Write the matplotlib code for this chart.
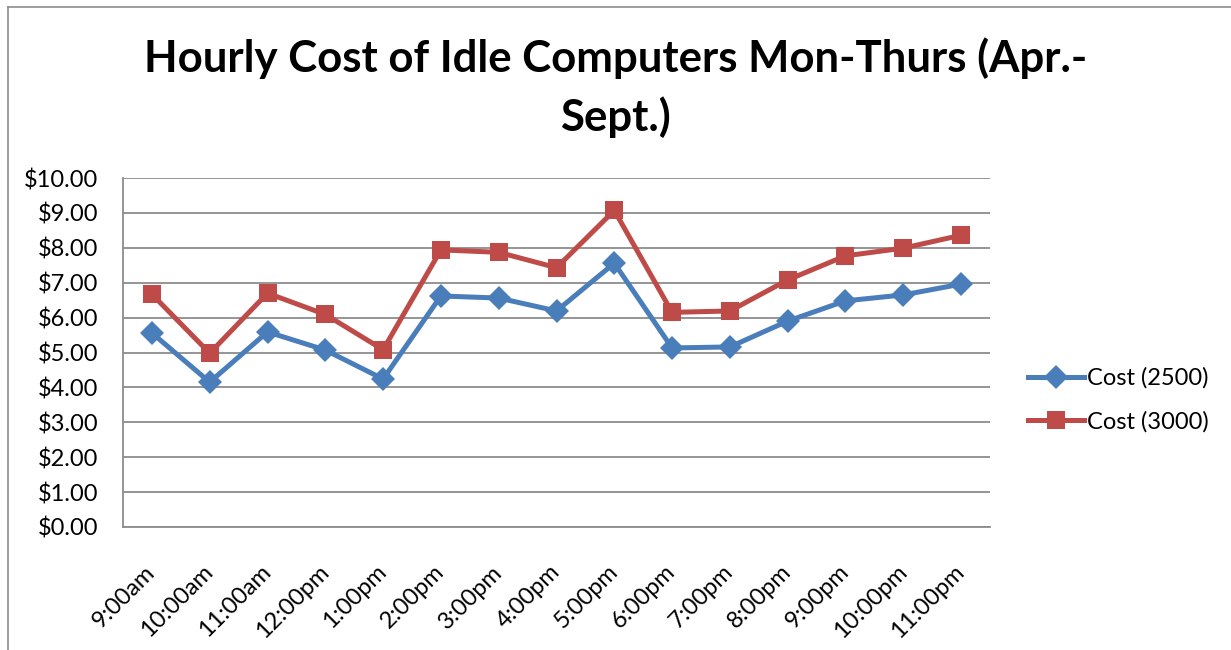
import matplotlib
matplotlib.use("Agg")
import matplotlib.pyplot as plt
from matplotlib.ticker import FuncFormatter, MultipleLocator
from matplotlib.lines import Line2D

hours = ["9:00am", "10:00am", "11:00am", "12:00pm", "1:00pm", "2:00pm", "3:00pm",
         "4:00pm", "5:00pm", "6:00pm", "7:00pm", "8:00pm", "9:00pm", "10:00pm", "11:00pm"]
cost_2500 = [5.56, 4.15, 5.59, 5.07, 4.24, 6.62, 6.56, 6.19, 7.56, 5.13, 5.16, 5.90, 6.48, 6.65, 6.96]
cost_3000 = [6.67, 4.98, 6.70, 6.09, 5.08, 7.94, 7.87, 7.43, 9.07, 6.15, 6.19, 7.08, 7.77, 7.99, 8.36]

plt.rcParams["font.family"] = ["Lato", "DejaVu Sans"]

W, H = 1231, 650
fig = plt.figure(figsize=(W / 100, H / 100), dpi=100)

# outer chart frame (left and top edges visible)
fig.add_artist(Line2D([8 / W, 8 / W], [0, 1 - 7 / H], color="#8c8c8c", lw=1.2))
fig.add_artist(Line2D([8 / W, 1], [1 - 7 / H, 1 - 7 / H], color="#8c8c8c", lw=1.2))

ax = fig.add_axes([123 / W, 1 - 527 / H, (990 - 123) / W, (527 - 178) / H])

blue = "#4A7EBB"
red = "#BE4B48"
x = list(range(len(hours)))
ax.plot(x, cost_2500, color=blue, lw=3.6, marker="D", markersize=12,
        markeredgewidth=0, label="Cost (2500)", zorder=3)
ax.plot(x, cost_3000, color=red, lw=3.6, marker="s", markersize=13.5,
        markeredgewidth=0, label="Cost (3000)", zorder=3)

ax.set_xlim(-0.5, len(hours) - 0.5)
ax.set_ylim(0, 10)
ax.yaxis.set_major_locator(MultipleLocator(1))
ax.yaxis.set_major_formatter(FuncFormatter(lambda v, _: f"${v:.2f}"))
ax.grid(axis="y", color="#8c8c8c", lw=1.3)
ax.set_axisbelow(True)

for side in ("top", "right"):
    ax.spines[side].set_visible(False)
for side in ("left", "bottom"):
    ax.spines[side].set_color("#8c8c8c")
    ax.spines[side].set_linewidth(1.3)

ax.set_xticks(x)
ax.set_xticklabels(hours, rotation=45, ha="right", va="center",
                   rotation_mode="anchor", fontsize=17)
ax.tick_params(axis="x", length=0, pad=30)
ax.tick_params(axis="y", length=0, pad=18, labelsize=17)

fig.text(0.5, 1 - 58 / H, "Hourly Cost of Idle Computers Mon-Thurs (Apr.-", ha="center",
         va="center", fontsize=31.5, fontweight="bold")
fig.text(0.5, 1 - 117 / H, "Sept.)", ha="center", va="center", fontsize=31.5, fontweight="bold")

fig.legend(loc="center left", bbox_to_anchor=(1007 / W, 1 - 400 / H), frameon=False,
           fontsize=17, handlelength=2.35, handletextpad=0.12, labelspacing=0.95)

fig.savefig("out.png", dpi=100)
